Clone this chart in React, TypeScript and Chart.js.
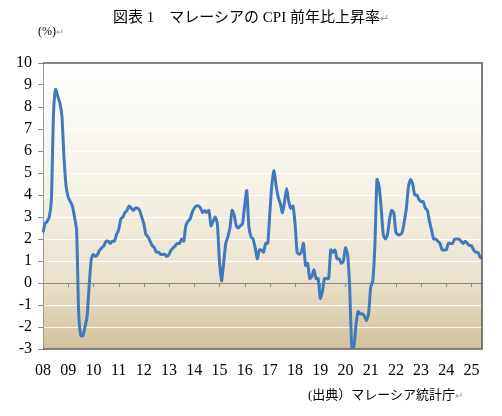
import React, { useEffect, useRef } from "react";
import { Chart, registerables } from "chart.js";

Chart.register(...registerables);

// Year labels shown on the x axis (January of each year)
const yearLabels = ["08", "09", "10", "11", "12", "13", "14", "15", "16", "17", "18", "19", "20", "21", "22", "23", "24", "25"];

// Malaysia CPI, year-on-year % (monthly)
const cpi2008 = [2.3, 2.7, 2.8, 3.0, 3.8, 7.7, 8.8, 8.5, 8.2, 7.6, 5.7, 4.4];
const cpi2009 = [3.9, 3.7, 3.5, 3.0, 2.4, -1.4, -2.4, -2.4, -2.0, -1.5, -0.1, 1.1];
const cpi2010 = [1.3, 1.2, 1.3, 1.5, 1.6, 1.7, 1.9, 1.9, 1.8, 1.9, 1.9, 2.2];
const cpi2011 = [2.4, 2.9, 3.0, 3.2, 3.3, 3.5, 3.4, 3.3, 3.4, 3.4, 3.3, 3.0];
const cpi2012 = [2.7, 2.2, 2.1, 1.9, 1.7, 1.6, 1.4, 1.4, 1.3, 1.3, 1.3, 1.2];
const cpi2013 = [1.3, 1.5, 1.6, 1.7, 1.8, 1.8, 2.0, 1.9, 2.6, 2.8, 2.9, 3.2];
const cpi2014 = [3.4, 3.5, 3.5, 3.4, 3.2, 3.3, 3.2, 3.3, 2.6, 2.8, 3.0, 2.7];
const cpi2015 = [1.0, 0.1, 0.9, 1.8, 2.1, 2.5, 3.3, 3.1, 2.6, 2.5, 2.6, 2.7];
const cpi2016 = [3.5, 4.2, 2.6, 2.1, 2.0, 1.6, 1.1, 1.5, 1.5, 1.4, 1.8, 1.8];
const cpi2017 = [3.2, 4.5, 5.1, 4.4, 3.9, 3.6, 3.2, 3.7, 4.3, 3.7, 3.4, 3.5];
const cpi2018 = [2.7, 1.4, 1.3, 1.4, 1.8, 0.8, 0.9, 0.2, 0.3, 0.6, 0.2, 0.2];
const cpi2019 = [-0.7, -0.4, 0.2, 0.2, 0.2, 1.5, 1.4, 1.5, 1.1, 1.1, 0.9, 1.0];
const cpi2020 = [1.6, 1.3, -0.2, -2.9, -2.9, -1.9, -1.3, -1.4, -1.4, -1.5, -1.7, -1.4];
const cpi2021 = [-0.2, 0.1, 1.7, 4.7, 4.4, 3.4, 2.2, 2.0, 2.2, 2.9, 3.3, 3.2];
const cpi2022 = [2.3, 2.2, 2.2, 2.3, 2.8, 3.4, 4.4, 4.7, 4.5, 4.0, 4.0, 3.8];
const cpi2023 = [3.7, 3.7, 3.4, 3.3, 2.8, 2.4, 2.0, 2.0, 1.9, 1.8, 1.5, 1.5];
const cpi2024 = [1.5, 1.8, 1.8, 1.8, 2.0, 2.0, 2.0, 1.9, 1.8, 1.9, 1.8, 1.7];
const cpi2025 = [1.7, 1.5, 1.4, 1.4, 1.2, 1.1];

const yearly = [cpi2008, cpi2009, cpi2010, cpi2011, cpi2012, cpi2013, cpi2014, cpi2015, cpi2016, cpi2017, cpi2018, cpi2019, cpi2020, cpi2021, cpi2022, cpi2023, cpi2024, cpi2025];

const Y_MIN = -3;
const Y_MAX = 10;

const values: number[] = [];
const labels: string[] = [];
yearly.forEach((arr, yi) => {
  arr.forEach((v, mi) => {
    values.push(v);
    labels.push(mi === 0 ? yearLabels[yi] : "");
  });
});

const plotDecor = {
  id: "plotDecor",
  beforeDraw(chart: any) {
    const { ctx, chartArea: a } = chart;
    ctx.save();
    const g = ctx.createLinearGradient(0, a.top, 0, a.bottom);
    g.addColorStop(0, "#fefefd");
    g.addColorStop(0.4, "#f6f3e9");
    g.addColorStop(0.75, "#ebe2cd");
    g.addColorStop(1, "#d2c29b");
    ctx.fillStyle = g;
    ctx.fillRect(a.left, a.top, a.right - a.left, a.bottom - a.top);
    ctx.restore();
  },
  beforeDatasetsDraw(chart: any) {
    const { ctx, scales } = chart;
    const x = scales.x;
    const y = scales.y;
    const y0 = y.getPixelForValue(0);
    ctx.save();
    ctx.strokeStyle = "#8a8a8a";
    ctx.lineWidth = 1;
    ctx.beginPath();
    labels.forEach((l, i) => {
      if (l !== "" && i > 0) {
        const px = Math.round(x.getPixelForValue(i)) + 0.5;
        ctx.moveTo(px, y0);
        ctx.lineTo(px, y0 + 4);
      }
    });
    ctx.stroke();
    ctx.restore();
  },
  afterDatasetsDraw(chart: any) {
    const { ctx, chartArea: a } = chart;
    ctx.save();
    ctx.strokeStyle = "#5e5e5e";
    ctx.lineWidth = 1.6;
    ctx.beginPath();
    ctx.moveTo(a.left, a.top);
    ctx.lineTo(a.right, a.top);
    ctx.lineTo(a.right, a.bottom);
    ctx.lineTo(a.left, a.bottom);
    ctx.stroke();
    ctx.restore();
  },
};

function CpiChart() {
  const ref = useRef<HTMLCanvasElement | null>(null);
  useEffect(() => {
    if (!ref.current) return;
    const chart = new Chart(ref.current, {
      type: "line",
      data: {
        labels,
        datasets: [
          {
            data: values,
            borderColor: "#4179be",
            borderWidth: 3,
            pointRadius: 0,
            tension: 0.2,
            fill: false,
          },
        ],
      },
      options: {
        animation: false,
        responsive: false,
        events: [],
        layout: { padding: { top: 63, right: 20, left: 0, bottom: 37 } },
        plugins: {
          legend: { display: false },
          tooltip: { enabled: false },
          title: { display: false },
        },
        scales: {
          x: {
            offset: false,
            grid: { display: false, drawTicks: false },
            border: { display: false },
            ticks: {
              autoSkip: false,
              maxRotation: 0,
              minRotation: 0,
              padding: 12,
              color: "#000",
              font: { family: "'Liberation Serif', serif", size: 16 },
              callback: (_v: any, i: number) => labels[i],
            },
            afterFit: (s: any) => {
              s.height = 30;
            },
          },
          y: {
            min: Y_MIN,
            max: Y_MAX,
            grid: {
              color: (c: any) => (c.tick && c.tick.value === 0 ? "#8a8a8a" : "rgba(255,255,255,0.9)"),
              tickColor: "#8a8a8a",
              tickLength: 5,
              lineWidth: 1,
            },
            border: { color: "#9a9a9a", width: 1 },
            ticks: {
              stepSize: 1,
              autoSkip: false,
              padding: 6,
              color: "#000",
              font: { family: "'Liberation Serif', serif", size: 16 },
            },
            afterFit: (s: any) => {
              s.width = 43;
            },
          },
        },
      },
      plugins: [plotDecor],
    });
    return () => chart.destroy();
  }, []);
  return <canvas ref={ref} width={502} height={416} style={{ position: "absolute", left: 0, top: 0 }} />;
}

const mark: React.CSSProperties = { color: "#9a9a9a", fontSize: "0.75em" };
const textFont = "'Liberation Serif', 'Noto Sans CJK JP', serif";

export default function App() {
  return (
    <div style={{ position: "absolute", left: 0, top: 0, width: 502, height: 416, background: "#fff", overflow: "hidden" }}>
      <CpiChart />
      <div
        style={{
          position: "absolute",
          left: 0,
          top: 8,
          width: 502,
          textAlign: "center",
          fontFamily: textFont,
          fontSize: 15,
          lineHeight: "19px",
          whiteSpace: "nowrap",
          color: "#000",
        }}
      >
        図表 1　マレーシアの CPI 前年比上昇率<span style={mark}>↵</span>
      </div>
      <div
        style={{
          position: "absolute",
          left: 38,
          top: 24,
          fontFamily: textFont,
          fontSize: 12,
          lineHeight: "15px",
          whiteSpace: "nowrap",
          color: "#000",
        }}
      >
        (%)<span style={mark}>↵</span>
      </div>
      <div
        style={{
          position: "absolute",
          left: 308,
          top: 386,
          fontFamily: textFont,
          fontSize: 13,
          lineHeight: "18px",
          whiteSpace: "nowrap",
          color: "#000",
        }}
      >
        (出典）マレーシア統計庁<span style={mark}>↵</span>
      </div>
    </div>
  );
}
